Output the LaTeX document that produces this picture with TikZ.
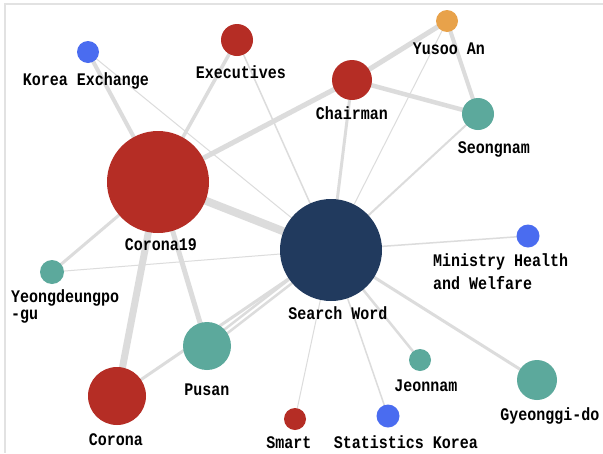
\documentclass[tikz,border=0pt]{standalone}
\usepackage{fontspec}
\setmonofont{Liberation Mono}
\usetikzlibrary{backgrounds}
\definecolor{cred}{HTML}{B52D25}
\definecolor{cnavy}{HTML}{213A5E}
\definecolor{cteal}{HTML}{5CA99C}
\definecolor{cblue}{HTML}{4A6CF0}
\definecolor{corange}{HTML}{E8A24A}
\definecolor{cedge}{HTML}{DCDCDC}
\definecolor{cframe}{HTML}{E2E2E2}
\newcommand{\tall}[1]{\scalebox{1}[1.18]{#1}}
\tikzset{
  dot/.style={circle, inner sep=0pt, minimum size=#1},
  lab/.style={font=\ttfamily\bfseries\fontsize{15}{18}\selectfont, inner sep=0pt, text=black},
  edge/.style={draw=cedge, line width=#1},
}
\begin{document}
\begin{tikzpicture}[x=1pt,y=-1pt]
\useasboundingbox (0,0) rectangle (603,453);
% nodes
\node[dot=22pt, fill=cblue] (ke) at (88,52) {};
\node[dot=32pt, fill=cred] (ex) at (237,40) {};
\node[dot=22pt, fill=corange] (yu) at (447,21) {};
\node[dot=40pt, fill=cred] (ch) at (352,80) {};
\node[dot=32pt, fill=cteal] (se) at (478,114) {};
\node[dot=102pt, fill=cred] (c19) at (158,182) {};
\node[dot=102pt, fill=cnavy] (sw) at (331,250) {};
\node[dot=23pt, fill=cblue] (mi) at (528,236) {};
\node[dot=24pt, fill=cteal] (yd) at (52,272) {};
\node[dot=48pt, fill=cteal] (pu) at (207,346) {};
\node[dot=58pt, fill=cred] (co) at (117,396) {};
\node[dot=22pt, fill=cred] (sm) at (295,419) {};
\node[dot=23pt, fill=cblue] (st) at (388,416) {};
\node[dot=22pt, fill=cteal] (je) at (420,360) {};
\node[dot=40pt, fill=cteal] (gy) at (537,380) {};
% labels
\node[lab] (lke) at (86,81) {\tall{Korea Exchange}};
\node[lab] (lex) at (241,72) {\tall{Executives}};
\node[lab] (lyu) at (449,49) {\tall{Yusoo An}};
\node[lab] (lch) at (352,113) {\tall{Chairman}};
\node[lab] (lse) at (494,149) {\tall{Seongnam}};
\node[lab] (lc19) at (161,245) {\tall{Corona19}};
\node[lab] (lsw) at (338,313) {\tall{Search Word}};
\node[lab, anchor=west] (lmi1) at (433,262) {\tall{Ministry Health}};
\node[lab, anchor=west] (lmi2) at (433,283) {\tall{and Welfare}};
\node[lab, anchor=west] (lyd1) at (11,298) {\tall{Yeongdeungpo}};
\node[lab, anchor=west] (lyd2) at (11,317) {\tall{-gu}};
\node[lab] (lpu) at (207,390) {\tall{Pusan}};
\node[lab] (lco) at (116,440) {\tall{Corona}};
\node[lab] (lsm) at (289,443) {\tall{Smart}};
\node[lab] (lst) at (406,442) {\tall{Statistics Korea}};
\node[lab] (lje) at (426,386) {\tall{Jeonnam}};
\node[lab] (lgy) at (550,416) {\tall{Gyeonggi-do}};
% edges
\begin{pgfonlayer}{background}
\fill[white] (0,0) rectangle (603,453);
\draw[cframe, line width=1.5pt] (5,453) -- (5,4) -- (603,4);
\draw[edge=1pt] (ke.center) -- (sw.center);
\draw[edge=1.5pt] (ex.center) -- (sw.center);
\draw[edge=1pt] (yu.center) -- (sw.center);
\draw[edge=2pt] (se.center) -- (sw.center);
\draw[edge=1pt] (yd.center) -- (sw.center);
\draw[edge=1.5pt] (sw.center) -- (mi.center);
\draw[edge=1pt] (sw.center) -- (sm.center);
\draw[edge=1.5pt] (sw.center) -- (st.center);
\draw[edge=2.5pt] (sw.center) -- (je.center);
\draw[edge=3pt] (sw.center) -- (gy.center);
\draw[edge=3pt] (ch.center) -- (sw.center);
\draw[edge=4pt] (ke.center) -- (c19.center);
\draw[edge=3.5pt] (ex.center) -- (c19.center);
\draw[edge=5pt] (c19.center) -- (ch.center);
\draw[edge=5pt] (ch.center) -- (yu.center);
\draw[edge=4.5pt] (ch.center) -- (se.center);
\draw[edge=4pt] (yu.center) -- (se.center);
\draw[edge=8pt] (c19.center) -- (sw.center);
\draw[edge=3pt] (c19.center) -- (yd.center);
\draw[edge=7pt] (c19.center) -- (co.center);
\draw[edge=5pt] (c19.center) -- (pu.center);
\draw[edge=3pt] (co.center) -- (sw.center);
\draw[edge=2.5pt] ([yshift=-3pt]pu.center) -- ([yshift=-3pt]sw.center);
\draw[edge=2.5pt] ([yshift=3pt]pu.center) -- ([yshift=3pt]sw.center);
\end{pgfonlayer}
\end{tikzpicture}
\end{document}
